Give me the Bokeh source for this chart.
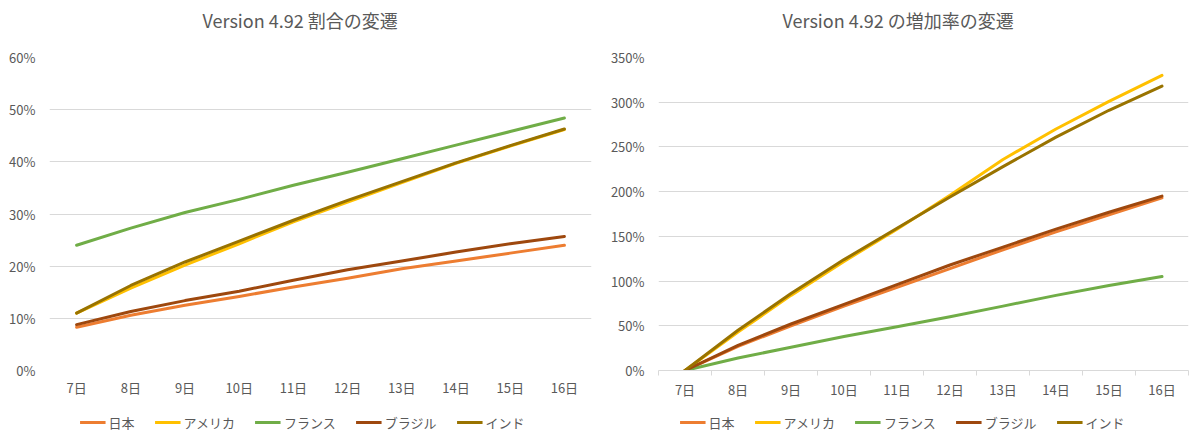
from bokeh.plotting import figure
from bokeh.layouts import row, column
from bokeh.models import Range1d, FixedTicker, NumeralTickFormatter, Legend, LegendItem
from bokeh.embed import file_html
from bokeh.resources import INLINE

FONT = "Noto Sans CJK JP"
TEXT = "#595959"
GRID = "#D9D9D9"

days = ["7日", "8日", "9日", "10日", "11日", "12日", "13日", "14日", "15日", "16日"]
series_names = ["日本", "アメリカ", "フランス", "ブラジル", "インド"]
series_colors = ["#ED7D31", "#FFC000", "#70AD47", "#9E480E", "#997300"]

# Version 4.92 share (fraction)
share_japan = [0.083, 0.106, 0.125, 0.142, 0.160, 0.177, 0.195, 0.210, 0.225, 0.240]
share_usa = [0.110, 0.158, 0.202, 0.243, 0.285, 0.323, 0.360, 0.397, 0.430, 0.462]
share_france = [0.240, 0.273, 0.303, 0.328, 0.355, 0.380, 0.406, 0.432, 0.458, 0.484]
share_brazil = [0.088, 0.113, 0.134, 0.152, 0.173, 0.193, 0.210, 0.227, 0.243, 0.257]
share_india = [0.110, 0.163, 0.208, 0.248, 0.288, 0.326, 0.362, 0.398, 0.431, 0.463]

# Version 4.92 increase rate (fraction)
rate_japan = [0.0, 0.27, 0.50, 0.72, 0.93, 1.14, 1.35, 1.55, 1.74, 1.93]
rate_usa = [0.0, 0.43, 0.84, 1.22, 1.58, 1.96, 2.36, 2.70, 3.01, 3.30]
rate_france = [0.0, 0.14, 0.26, 0.38, 0.49, 0.60, 0.72, 0.84, 0.95, 1.05]
rate_brazil = [0.0, 0.28, 0.52, 0.74, 0.96, 1.18, 1.38, 1.58, 1.77, 1.95]
rate_india = [0.0, 0.45, 0.86, 1.24, 1.59, 1.94, 2.28, 2.61, 2.91, 3.18]

share_series = [share_japan, share_usa, share_france, share_brazil, share_india]
rate_series = [rate_japan, rate_usa, rate_france, rate_brazil, rate_india]

x_idx = list(range(len(days)))


def blank_figure(width, height):
    f = figure(
        width=width, height=height,
        x_range=Range1d(0, 1), y_range=Range1d(0, 1),
        x_axis_type=None, y_axis_type=None,
        output_backend="svg", toolbar_location=None,
        min_border_left=0, min_border_right=0,
        min_border_top=0, min_border_bottom=0,
    )
    f.outline_line_color = None
    f.xgrid.visible = False
    f.ygrid.visible = False
    return f


def make_title(width, text, offset):
    t = blank_figure(width, 47)
    t.title.text = text
    t.title.align = "left"
    t.title.vertical_align = "bottom"
    t.title.text_font = FONT
    t.title.text_font_size = "18px"
    t.title.text_font_style = "normal"
    t.title.text_color = TEXT
    t.title.offset = offset
    t.title.standoff = 8
    return t


def make_chart(series, ymax, ystep, frame_w, left_border, right_border,
               axis_line, xlabel_standoff):
    p = figure(
        frame_width=frame_w, frame_height=313,
        x_range=Range1d(-0.5, len(days) - 0.5),
        y_range=Range1d(0, ymax),
        output_backend="svg", toolbar_location=None,
        min_border_left=left_border, min_border_right=right_border,
        min_border_top=10, min_border_bottom=32,
    )
    p.outline_line_color = None
    p.background_fill_color = "white"
    p.border_fill_color = "white"

    # y axis
    n = int(round(ymax / ystep))
    p.yaxis.ticker = FixedTicker(ticks=[round(i * ystep, 6) for i in range(n + 1)])
    p.yaxis.formatter = NumeralTickFormatter(format="0%")
    p.yaxis.axis_line_color = None
    p.yaxis.major_tick_line_color = None
    p.yaxis.major_tick_out = 0
    p.yaxis.major_tick_in = 0
    p.yaxis.minor_tick_line_color = None
    p.yaxis.minor_tick_out = 0
    p.yaxis.major_label_text_font = FONT
    p.yaxis.major_label_text_font_size = "13px"
    p.yaxis.major_label_text_color = TEXT
    p.yaxis.major_label_standoff = 14

    # x axis
    p.xaxis.ticker = FixedTicker(ticks=x_idx, minor_ticks=[i - 0.5 for i in range(len(days) + 1)])
    p.xaxis.major_label_overrides = {i: d for i, d in enumerate(days)}
    p.xaxis.major_label_text_font = FONT
    p.xaxis.major_label_text_font_size = "13px"
    p.xaxis.major_label_text_color = TEXT
    p.xaxis.major_tick_line_color = None
    p.xaxis.major_tick_out = 0
    p.xaxis.major_tick_in = 0
    p.xaxis.major_label_standoff = xlabel_standoff
    if axis_line:
        p.xaxis.axis_line_color = GRID
        p.xaxis.axis_line_width = 1
        p.xaxis.minor_tick_line_color = GRID
        p.xaxis.minor_tick_in = 0
        p.xaxis.minor_tick_out = 5
    else:
        p.xaxis.axis_line_color = None
        p.xaxis.minor_tick_line_color = None
        p.xaxis.minor_tick_out = 0

    p.xgrid.grid_line_color = None
    p.ygrid.grid_line_color = GRID
    p.ygrid.grid_line_width = 1

    for color, vals in zip(series_colors, series):
        p.line(x_idx, vals, line_color=color, line_width=3, line_join="round", line_cap="round")
    return p


def make_legend(width, left_border, right_border):
    lf = blank_figure(width, 40)
    lf.min_border_left = left_border
    lf.min_border_right = right_border
    items = []
    for name, color in zip(series_names, series_colors):
        r = lf.line(x=[float("nan")], y=[float("nan")], line_color=color, line_width=3)
        items.append(LegendItem(label=name, renderers=[r]))
    legend = Legend(items=items, orientation="horizontal", location="center")
    legend.label_text_font = FONT
    legend.label_text_font_size = "13px"
    legend.label_text_color = TEXT
    legend.glyph_width = 26
    legend.label_standoff = 3
    legend.spacing = 20
    legend.border_line_color = None
    legend.background_fill_alpha = 0
    legend.margin = 0
    legend.padding = 0
    lf.add_layout(legend, "center")
    return lf


t1 = make_title(601, "Version 4.92 割合の変遷", 202)
t2 = make_title(589, "Version 4.92 の増加率の変遷", 181)
p1 = make_chart(share_series, 0.6, 0.1, 542, 49, 10, False, 7)
p2 = make_chart(rate_series, 3.5, 0.5, 530, 57, 2, True, 4)
l1 = make_legend(601, 3, 0)
l2 = make_legend(589, 13, 0)

layout = column(row(t1, t2), row(p1, p2), row(l1, l2), spacing=0)
open("out.html", "w").write(file_html(layout, INLINE))
